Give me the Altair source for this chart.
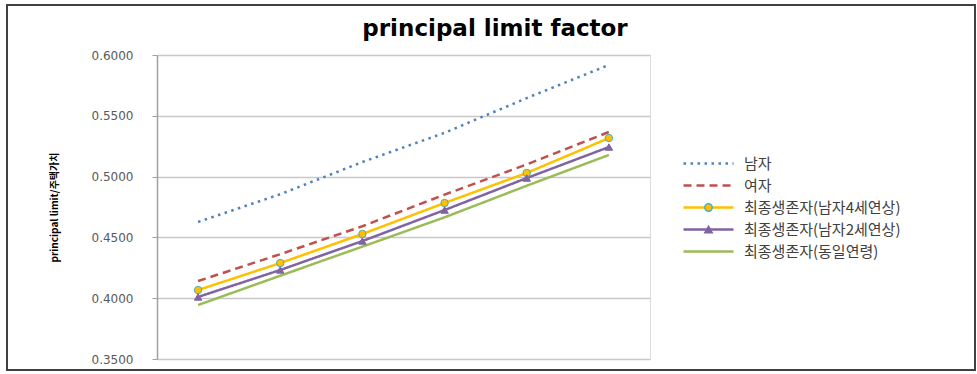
import altair as alt
import pandas as pd

# ---- data ----
chart_title = ["principal limit factor"]
x_points = [1, 2, 3, 4, 5, 6]
series_names = ["남자", "여자", "최종생존자(남자4세연상)", "최종생존자(남자2세연상)", "최종생존자(동일연령)"]
male = [0.4627, 0.4855, 0.5120, 0.5360, 0.5646, 0.5918]
female = [0.4141, 0.4362, 0.4592, 0.4852, 0.5100, 0.5367]
last_4older = [0.4067, 0.4289, 0.4528, 0.4783, 0.5030, 0.5317]
last_2older = [0.4010, 0.4232, 0.4470, 0.4725, 0.4988, 0.5243]
last_same = [0.3944, 0.4185, 0.4424, 0.4665, 0.4925, 0.5178]
y_ticks = [0.35, 0.40, 0.45, 0.50, 0.55, 0.60]

colors = ["#4F81BD", "#C0504D", "#FFC000", "#8064A2", "#9BBB59"]
dashes = [[2.5, 4.5], [8, 5], [1, 0], [1, 0], [1, 0]]
marker_series = ["최종생존자(남자4세연상)", "최종생존자(남자2세연상)"]
marker_shapes = ["circle", "triangle-up"]
marker_fills = ["#FFC000", "#8064A2"]
marker_strokes = ["#4BACC6", "#8064A2"]

all_values = [male, female, last_4older, last_2older, last_same]
rows = []
for name, vals in zip(series_names, all_values):
    for x, v in zip(x_points, vals):
        rows.append({"series": name, "x": x, "value": v})
df = pd.DataFrame(rows)
df_pts = df[df["series"].isin(marker_series)]

FONT = "DejaVu Sans"
KFONT = "Noto Sans CJK KR"

legend_common = dict(
    title=None, orient="none", labelFontSize=15, labelFont=KFONT,
    labelColor="#404040", rowPadding=6, labelLimit=400,
)

line_legend = dict(legendX=544, legendY=101, symbolType="M-5,0H5",
                   symbolSize=100, symbolStrokeWidth=2.5, labelOffset=28,
                   **legend_common)
marker_legend = dict(legendX=544, legendY=145, symbolSize=55, labelOpacity=0,
                     labelOffset=28, **legend_common)

x_enc = alt.X("x:O", axis=None, scale=alt.Scale(padding=0.5))
y_enc = alt.Y(
    "value:Q",
    scale=alt.Scale(domain=[0.35, 0.6], nice=False, zero=False),
    axis=alt.Axis(
        values=y_ticks, format=".4f", title="principal limit/주택가치",
        titleFont=KFONT, titleFontSize=10, titleFontWeight="bold", titleColor="#000000",
        titleX=-103, titleY=152, titleAngle=270, titleAlign="center", titleBaseline="middle",
        labelFont=FONT, labelFontSize=12, labelColor="#595959", labelPadding=19,
        tickSize=5, tickColor="#A0A0A0", domainColor="#A0A0A0", domainWidth=1.5,
        grid=True, gridColor="#C8C8C8", gridWidth=1.5,
    ),
)

lines = alt.Chart(df).mark_line(strokeWidth=2.5).encode(
    x=x_enc,
    y=y_enc,
    color=alt.Color("series:N", scale=alt.Scale(domain=series_names, range=colors),
                    legend=alt.Legend(**line_legend)),
    strokeDash=alt.StrokeDash("series:N", scale=alt.Scale(domain=series_names, range=dashes),
                              legend=alt.Legend(**line_legend)),
    detail="series:N",
)

points = alt.Chart(df_pts).mark_point(filled=True, size=55, strokeWidth=1, opacity=1).encode(
    x=x_enc,
    y=alt.Y("value:Q"),
    shape=alt.Shape("series:N", scale=alt.Scale(domain=marker_series, range=marker_shapes),
                    legend=alt.Legend(**marker_legend)),
    fill=alt.Fill("series:N", scale=alt.Scale(domain=marker_series, range=marker_fills),
                  legend=alt.Legend(**marker_legend)),
    stroke=alt.Stroke("series:N", scale=alt.Scale(domain=marker_series, range=marker_strokes),
                      legend=None),
)

frame = alt.Chart(pd.DataFrame({"f": [0]})).mark_rect(
    fill=None, stroke="#404040", strokeWidth=2
).encode(
    x=alt.value(-150), x2=alt.value(818), y=alt.value(-50), y2=alt.value(315)
)

title_mark = alt.Chart(pd.DataFrame({"t": chart_title})).mark_text(
    font=FONT, fontSize=23, fontWeight="bold", color="#000000",
    align="center", baseline="alphabetic",
).encode(text="t:N", x=alt.value(338), y=alt.value(-19))

chart = alt.layer(lines, points, frame, title_mark).resolve_scale(
    color="independent", shape="independent", fill="independent", stroke="independent",
    strokeDash="independent",
).properties(
    width=493, height=304,
    padding={"left": 157, "top": 55, "right": 327, "bottom": 15},
    autosize=alt.AutoSizeParams(type="none"),
).configure_view(stroke=None).configure(background="white")

chart.save("out.html", embed_options={"renderer": "svg", "actions": False})
